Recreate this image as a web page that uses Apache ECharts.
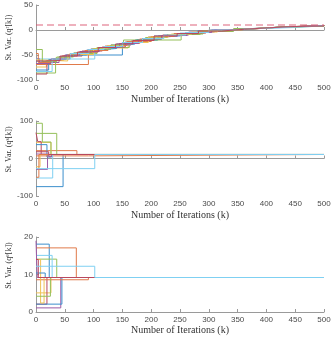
<!DOCTYPE html>
<html><head><meta charset="utf-8">
<script src="https://cdn.jsdelivr.net/npm/echarts@6/dist/echarts.min.js"></script>
<style>html,body{margin:0;padding:0;background:#fff}#c{width:332px;height:338px}</style>
</head><body><div id="c"></div>
<script>
// ---- data ----
const xTicks = [0,50,100,150,200,250,300,350,400,450,500];
const refLine = [[0,10],[500,10]];
// panel 1: q^r[k] step traces [k, value]
const r01 = [[0,-62],[8,-64],[30,-57],[54,-50],[150,-25],[175,-19],[205,-12],[240,-7],[270,-4],[300,0],[330,2],[370,5],[410,7],[455,8.5],[500,9.5]];
const r02 = [[0,-69],[91,-40],[120,-32],[145,-27],[180,-18],[215,-11],[260,-5],[300,0],[345,3],[390,6],[430,7.5],[470,9],[500,9.5]];
const r03 = [[0,-74],[18,-61],[48,-51],[70,-45],[105,-36],[160,-23],[200,-13],[235,-8],[285,-2],[320,1.5],[365,4.5],[410,7],[450,8.5],[500,9.5]];
const r04 = [[0,-57],[6,-65],[40,-53],[66,-46],[95,-38],[130,-30],[165,-22],[195,-14],[225,-10],[265,-4],[310,1],[355,4],[395,6.5],[440,8],[500,9.5]];
const r05 = [[0,-86],[34,-56],[60,-47],[106,-35],[162,-23],[190,-15],[228,-9],[285,-3],[343,3],[385,6],[425,7.5],[465,9],[500,9.5]];
const r06 = [[0,-58],[102,-37],[135,-29],[170,-21],[210,-12],[250,-6],[290,-1],[335,2.5],[375,5],[450,8.5],[500,9.5]];
const r07 = [[0,-88],[19,-61],[45,-52],[80,-42],[115,-34],[155,-24],[185,-17],[220,-10],[255,-6],[295,-1],[340,3],[380,5.5],[420,7.5],[460,8.5],[500,9.5]];
const r08 = [[0,-80],[22,-59],[52,-50],[88,-40],[104,-37],[140,-28],[172,-20],[212,-12],[246,-7],[280,-2],[325,2],[360,4.5],[400,6.5],[445,8],[500,9.5]];
const r09 = [[0,-47],[4,-65],[28,-58],[58,-48],[85,-41],[125,-31],[158,-23],[200,-13],[240,-7],[285,-2],[330,2],[372,5],[415,7],[460,8.5],[500,9.5]];
const r10 = [[0,-60],[12,-62],[55,-49],[100,-37],[125,-31],[152,-25],[195,-14],[230,-9],[270,-4],[315,1],[350,4],[392,6],[432,8],[500,9.5]];
const r11 = [[0,-67],[26,-58],[50,-50],[76,-43],[110,-35],[145,-27],[178,-19],[218,-11],[262,-5],[305,0.5],[345,3],[388,6],[428,7.5],[470,9],[500,9.5]];
const r12 = [[0,-39],[11,-63],[36,-54],[65,-46],[96,-38],[130,-30],[152,-20],[252,-8],[290,-1],[335,2.5],[380,5.5],[420,7.5],[500,9.5]];
const r13 = [[0,-83],[28,-58],[60,-47],[92,-39],[118,-33],[150,-25],[185,-17],[222,-10],[260,-5],[300,0],[340,3],[385,6],[450,8.5],[500,9.5]];
const r14 = [[0,-62],[15,-61],[42,-52],[72,-44],[108,-35],[138,-28],[168,-21],[205,-12],[245,-7],[282,-2],[322,1.5],[362,4.5],[405,7],[448,8],[500,9.5]];
// panel 2: q^s[k]
const s01 = [[0,-75],[47,10.7],[500,10.7]];
const s02 = [[0,21],[71,10.7],[500,10.7]];
const s03 = [[0,43],[26,10.7],[500,10.7]];
const s04 = [[0,-29],[20,10.7],[500,10.7]];
const s05 = [[0,94],[11,44],[26,10.7],[500,10.7]];
const s06 = [[0,-52],[29,10.7],[500,10.7]];
const s07 = [[0,69],[3,45],[9,10.7],[500,10.7]];
const s08 = [[0,37],[19,4],[27,10.7],[500,10.7]];
const s09 = [[0,7],[91,10.7],[500,10.7]];
const s10 = [[0,-22],[7,10.7],[500,10.7]];
const s11 = [[0,12],[22,5],[28,10.7],[500,10.7]];
const s12 = [[0,67],[36,10.7],[500,10.7]];
const s13 = [[0,-50],[5,10.7],[500,10.7]];
const s14 = [[0,18],[22,10.7],[500,10.7]];
const s15 = [[0,-27],[102,10.7],[500,10.7]];
// panel 3: q^e[k]
const e01 = [[0,18.1],[23,9.2],[500,9.2]];
const e02 = [[0,17.1],[70,9.2],[500,9.2]];
const e03 = [[0,5.1],[26,9.2],[500,9.2]];
const e04 = [[0,1.1],[43,9.2],[500,9.2]];
const e05 = [[0,14.1],[36,9.2],[500,9.2]];
const e06 = [[0,15.1],[28,9.2],[500,9.2]];
const e07 = [[0,2.1],[19,9.2],[500,9.2]];
const e08 = [[0,2.1],[45,9.2],[500,9.2]];
const e09 = [[0,8.6],[91,9.2],[500,9.2]];
const e10 = [[0,14],[8,2.4],[14,9.2],[500,9.2]];
const e11 = [[0,19],[2,9.2],[500,9.2]];
const e12 = [[0,4.2],[25,9.2],[500,9.2]];
const e13 = [[0,10.4],[16,9.2],[500,9.2]];
const e14 = [[0,14],[4,9.2],[500,9.2]];
const e15 = [[0,12.2],[102,9.2],[500,9.2]];

const palette = ['#3c8fcc','#e07a4a','#efc255','#9a5aa6','#95c05a','#7fd0f2','#b8485e'];
const panel1 = [r01,r02,r03,r04,r05,r06,r07,r08,r09,r10,r11,r12,r13,r14];
const panel2 = [s01,s02,s03,s04,s05,s12,s07,s08,s09,s10,s11,s06,s13,s14,s15];
const panel2Colors = [0,1,2,3,4,4,6,0,1,2,3,5,1,6,5];
const panel3 = [e01,e02,e03,e04,e05,e06,e07,e08,e09,e10,e11,e12,e13,e14,e15];
const panel3Colors = [0,1,2,3,4,5,6,0,1,2,3,4,0,6,5];

const ySup = ['r','s','e'];
const yRanges = [[-100,50,50],[-100,100,100],[0,20,10]];

// ---- chart ----
const tops = [5,121,237];
const yNameShift = [10,18,18];
const h = 75;
const axisColor = '#9a9a9a';
const serif = 'Liberation Serif, Times New Roman, serif';
const labelStyle = {color:'#4a4a4a', fontSize:8, fontFamily:'Liberation Sans, Arial, sans-serif'};
const xNameStyle = {color:'#333', fontSize:10, fontFamily:serif};
function yNameStyle(shift){
  return {color:'#333', fontSize:8, fontFamily:serif, padding:[0,0,0,shift],
    rich:{t:{fontSize:8, fontFamily:serif, color:'#333', verticalAlign:'bottom'},
          sup:{fontSize:5.5, fontFamily:serif, color:'#333', verticalAlign:'top'}}};
}
const grids = tops.map(t => ({left:36, width:288, top:t, height:h, outerBoundsMode:'none', containLabel:false}));
const xNameGaps = [14,14,13];
const xAxes = tops.map((t,i) => ({
  type:'value', gridIndex:i, min:0, max:500, interval:50,
  name:'Number of Iterations (k)', nameLocation:'middle', nameGap:xNameGaps[i], nameTextStyle:xNameStyle,
  nameMoveOverlap:false,
  axisLine:{show:true, lineStyle:{color:axisColor, width:1}},
  axisTick:{show:true, inside:true, length:3, lineStyle:{color:axisColor}},
  axisLabel:Object.assign({margin:4}, labelStyle),
  splitLine:{show:false}
}));
const yAxes = tops.map((t,i) => ({
  type:'value', gridIndex:i, min:yRanges[i][0], max:yRanges[i][1], interval:yRanges[i][2],
  name:'{t|St. Var. (q}{sup|' + ySup[i] + '}{t|[k])}', nameLocation:'middle', nameGap:23, nameRotate:90,
  nameMoveOverlap:false,
  nameTextStyle:yNameStyle(yNameShift[i]),
  axisLine:{show:true, onZero:false, lineStyle:{color:axisColor, width:1}},
  axisTick:{show:true, inside:true, length:3, lineStyle:{color:axisColor}},
  axisLabel:Object.assign({margin:3}, labelStyle),
  splitLine:{show:false}
}));
function stepSeries(data, color, gi){
  return {type:'line', xAxisIndex:gi, yAxisIndex:gi, data:data, step:'end', showSymbol:false, silent:true,
    animation:false, lineStyle:{color:color, width:1, opacity:1}, z:2};
}
const series = [];
panel1.forEach((d,i) => series.push(stepSeries(d, palette[i%7], 0)));
series.push({type:'line', xAxisIndex:0, yAxisIndex:0, data:refLine, showSymbol:false, silent:true, animation:false,
  lineStyle:{color:'#d9536e', width:1, type:[7,4], opacity:0.9}, z:3});
panel2.forEach((d,i) => series.push(stepSeries(d, palette[panel2Colors[i]], 1)));
panel3.forEach((d,i) => series.push(stepSeries(d, palette[panel3Colors[i]], 2)));

const chart = echarts.init(document.getElementById('c'), null, {renderer:'canvas'});
chart.setOption({animation:false, grid:grids, xAxis:xAxes, yAxis:yAxes, series:series});
</script></body></html>
